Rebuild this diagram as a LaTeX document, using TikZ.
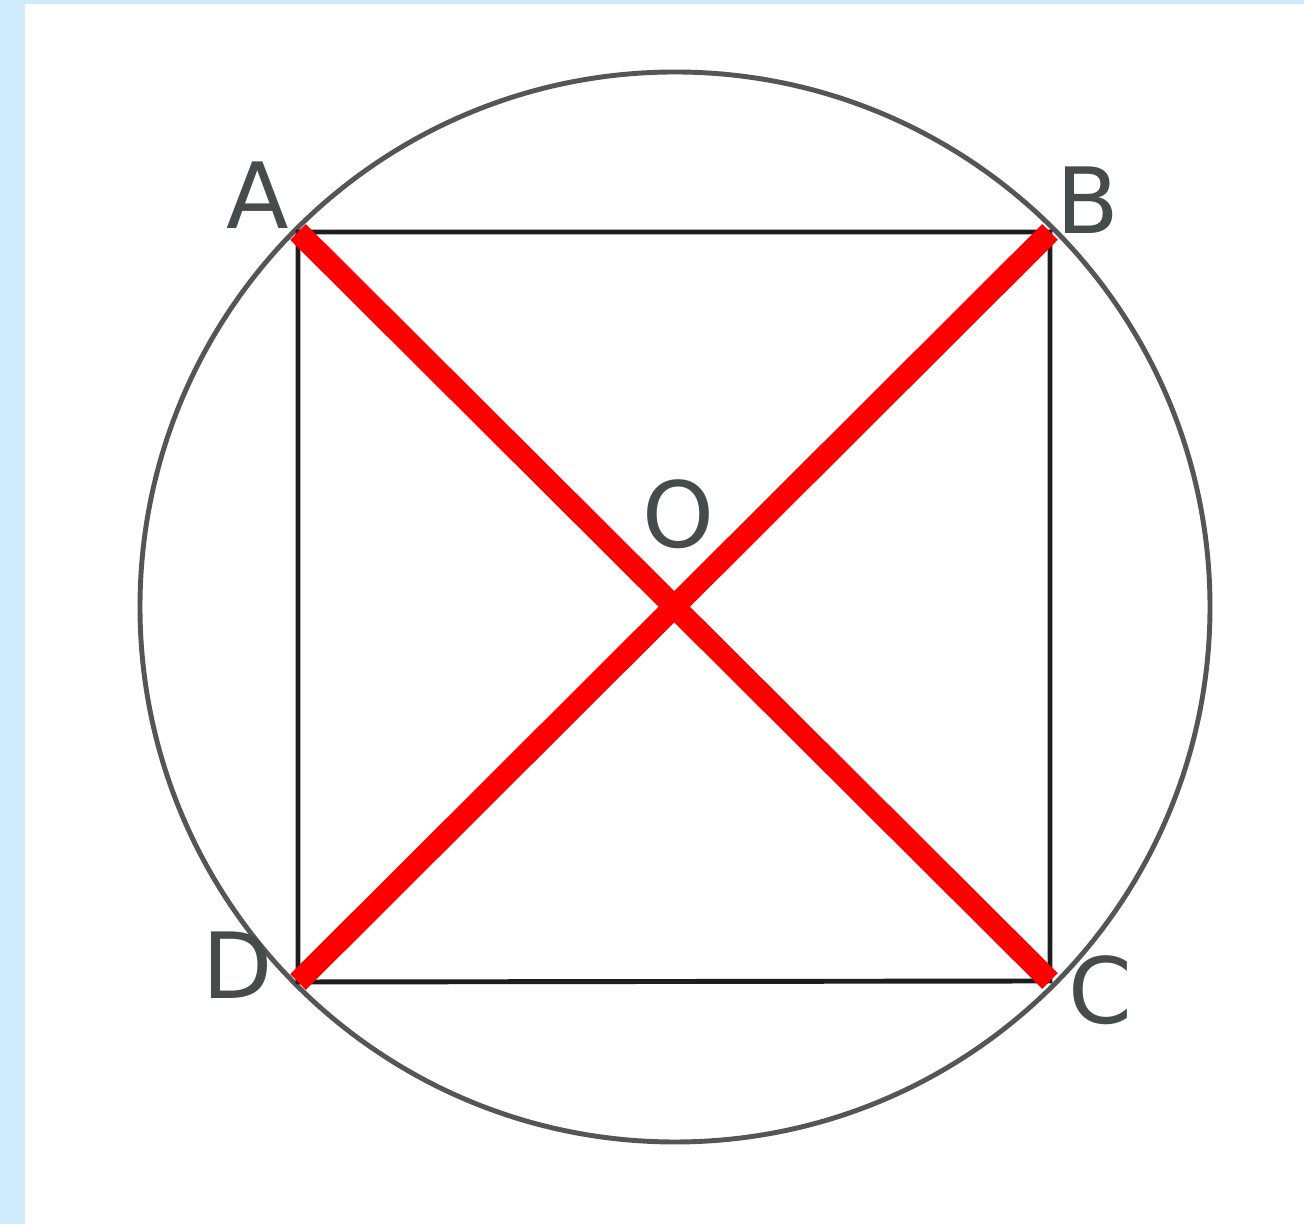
\documentclass[tikz,border=0pt]{standalone}
\usepackage{fontspec}
\setmainfont{DejaVu Sans}
\usepackage{tikz}
\usetikzlibrary{positioning}
\definecolor{framebg}{RGB}{208,236,252}
\definecolor{circgray}{RGB}{85,85,85}
\definecolor{sqdark}{RGB}{30,30,30}
\definecolor{lblgray}{RGB}{70,75,75}
\tikzset{
  lbl/.style={font=\fontsize{26}{26}\selectfont, text=lblgray, inner sep=0pt},
  side/.style={draw=sqdark, line width=1.4pt},
  diag/.style={draw=red, line width=6.3pt},
}
\begin{document}
\begin{tikzpicture}
  % frame
  \fill[framebg] (0,0) rectangle (13.04,12.24);
  \fill[white] (0.25,0) rectangle (13.04,12.20);
  \useasboundingbox (0,0) rectangle (13.04,12.24);
  % circle and corners
  \coordinate (O) at (6.75,6.17);
  \draw[circgray, line width=1.4pt] (O) circle (5.35);
  \coordinate (A) at (2.98,9.92);
  \coordinate (B) at (10.50,9.92);
  \coordinate (C) at (10.50,2.43);
  \coordinate (D) at (2.98,2.42);
  \draw[side] (A) -- (B) -- (C) -- (D) -- cycle;
  % diagonals
  \draw[diag] (A) -- (C);
  \draw[diag] (B) -- (D);
  % labels
  \node[lbl] (la) at (2.58,10.29) {A};
  \node[lbl] (lb) at (10.88,10.24) {B};
  \node[lbl] (lc) at (11.00,2.34) {C};
  \node[lbl] (ld) at (2.38,2.59) {D};
  \node[lbl] (lo) at (6.78,7.10) {O};
\end{tikzpicture}
\end{document}
